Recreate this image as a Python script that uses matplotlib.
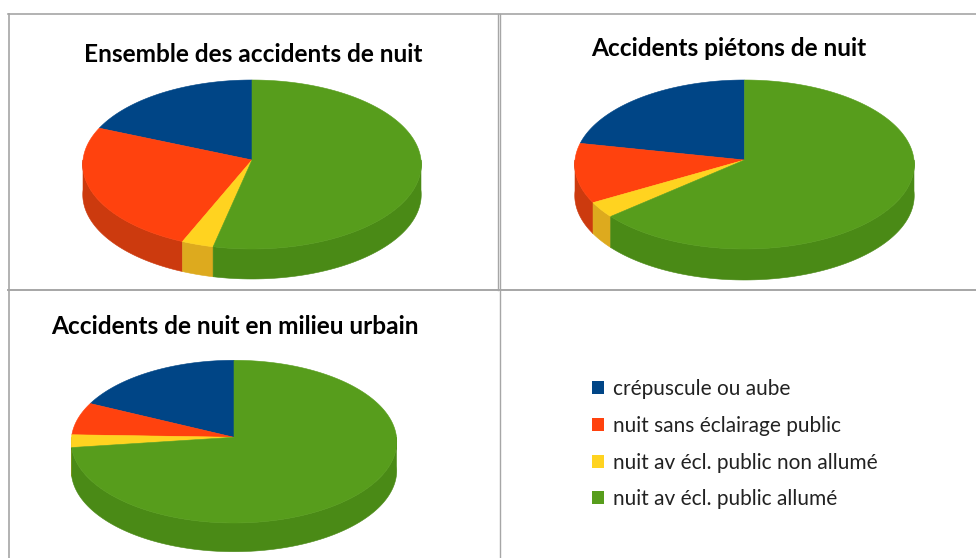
import numpy as np
import matplotlib
matplotlib.use("Agg")
import matplotlib.pyplot as plt
from matplotlib.patches import Patch

plt.rcParams["font.family"] = ["Lato", "DejaVu Sans"]

# ===== data =====
SERIES = [
    "crépuscule ou aube",
    "nuit sans éclairage public",
    "nuit av écl. public non allumé",
    "nuit av écl. public allumé",
]
ENSEMBLE = [18.7, 24.9, 2.9, 53.5]
PIETONS = [21.8, 11.4, 3, 63.8]
URBAIN = [18, 6.5, 2.5, 73]

TITLES = [
    "Ensemble des accidents de nuit",
    "Accidents piétons de nuit",
    "Accidents de nuit en milieu urbain",
]

TOP_COLORS = ["#004586", "#FF420E", "#FFD320", "#579D1C"]
SIDE_COLORS = ["#003A70", "#CC3A0E", "#DDAA1E", "#4A8A16"]
GRID = "#A6A6A6"


def project(theta, cx, cy, rx, up, down):
    # theta counted counter-clockwise from the top, slight perspective on the disc
    k = (down - up) / (down + up)
    a = up * (1 + k)
    w = 1 + k * np.cos(theta)
    return cx - rx * np.sin(theta) / w, cy - a * np.cos(theta) / w


def pie3d(ax, values, cx, cy, rx, up, down, depth):
    edges = np.radians(np.cumsum([0] + list(values)) / sum(values) * 360)

    # side wall: only the part facing the viewer
    for i in range(len(values)):
        start = max(edges[i], np.pi / 2)
        stop = min(edges[i + 1], 3 * np.pi / 2)
        if stop <= start:
            continue
        t = np.linspace(start, stop, 120)
        x, y = project(t, cx, cy, rx, up, down)
        ax.fill(np.r_[x, x[::-1]], np.r_[y, y[::-1] + depth],
                color=SIDE_COLORS[i], lw=0.4, zorder=2)

    # top face
    for i in range(len(values)):
        t = np.linspace(edges[i], edges[i + 1], 240)
        x, y = project(t, cx, cy, rx, up, down)
        ax.fill(np.r_[cx, x], np.r_[cy, y], color=TOP_COLORS[i], lw=0.4, zorder=3)


fig = plt.figure(figsize=(9.76, 5.58), dpi=100)
ax = fig.add_axes([0, 0, 1, 1])
ax.set_xlim(0, 976)
ax.set_ylim(558, 0)
ax.axis("off")

# table borders
ax.plot([8.5, 8.5], [14, 558], color=GRID, lw=1.2)
ax.plot([498, 498], [14, 289.5], color=GRID, lw=1.0)
ax.plot([500, 500], [14, 558], color=GRID, lw=1.0)
ax.plot([8, 976], [14, 14], color=GRID, lw=1.2)
ax.plot([8, 976], [289.5, 289.5], color=GRID, lw=1.4)

pie3d(ax, ENSEMBLE, 252, 160, 169, 80, 89, 30)
pie3d(ax, PIETONS, 744.5, 160, 169.5, 80, 89, 31)
pie3d(ax, URBAIN, 234, 437.3, 162.5, 77, 85.7, 28.7)

title_pos = [(253, 54), (729, 48), (235, 327)]
for txt, (tx, ty) in zip(TITLES, title_pos):
    ax.text(tx, ty, txt, ha="center", va="center", fontsize=17.6, fontweight="bold", color="black")

handles = [Patch(facecolor=c, edgecolor="none") for c in TOP_COLORS]
ax.legend(handles, SERIES, loc="upper left", bbox_to_anchor=(0.6066, 0.3203),
          frameon=False, fontsize=15, handlelength=0.58, handleheight=0.58,
          handletextpad=0.42, labelspacing=0.80, borderpad=0, borderaxespad=0,
          labelcolor="#222222")

fig.savefig("out.png", dpi=100)
